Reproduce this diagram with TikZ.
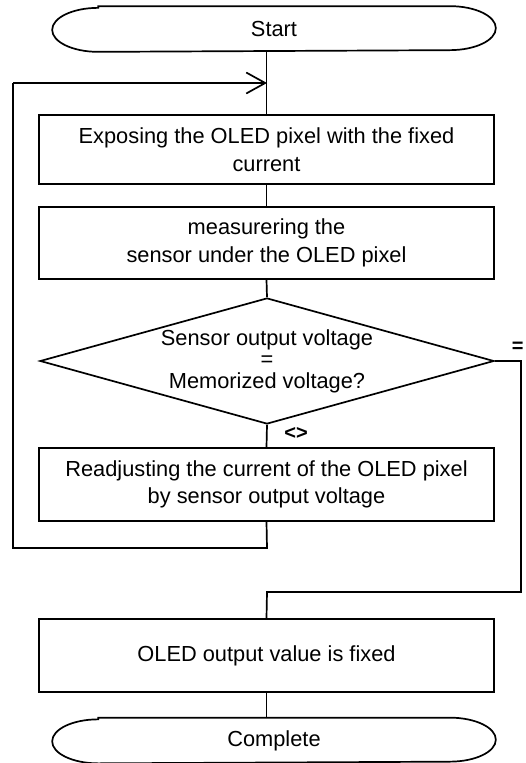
\documentclass[tikz,border=0pt]{standalone}
\usepackage{fontspec}
\setmainfont{Liberation Sans}
\usetikzlibrary{shapes.geometric,arrows.meta}
\begin{document}
\begin{tikzpicture}[x=1pt,y=-1pt,
  line width=1.7pt,
  txt/.style={font=\fontsize{21.8}{27.5}\selectfont, align=center},
  procbox/.style={draw, rectangle, txt, minimum width=455pt, inner sep=0pt},
  termbox/.style={rectangle, txt, minimum width=442pt, minimum height=44pt, inner sep=0pt},
  decbox/.style={draw, diamond, aspect=3.6, minimum width=454pt, minimum height=126pt, inner sep=0pt,
     font=\fontsize{21.8}{21.5}\selectfont, align=center},
  lbl/.style={font=\fontsize{20}{20}\selectfont\bfseries, inner sep=0pt},
  conn/.style={line width=1.7pt}
]
\useasboundingbox (0,0) rectangle (525,763);

% terminals
\node[termbox] (start) at (274,29) {Start};
\draw ([xshift=46pt]start.north west) -- ([xshift=-46pt]start.north east)
  arc[start angle=90, end angle=-90, x radius=46pt, y radius=22pt]
  -- ([xshift=46pt]start.south west)
  arc[start angle=270, end angle=90, x radius=46pt, y radius=22pt] -- cycle;

\node[procbox, minimum height=69pt] (b1) at (266.5,149.5) {Exposing the OLED pixel with the fixed\\current};
\node[procbox, minimum height=72pt] (b2) at (266.5,243) {measurering the\\sensor under the OLED pixel};
\node[decbox] (dec) at (267,361) {Sensor output voltage\\=\\Memorized voltage?};
\node[procbox, minimum height=73pt] (b3) at (266.5,484.5) {Readjusting the current of the OLED pixel\\by sensor output voltage};
\node[procbox, minimum height=73pt] (b4) at (266.5,655.5) {OLED output value is fixed};

\node[termbox] (comp) at (274,740.5) {Complete};
\draw ([xshift=46pt]comp.north west) -- ([xshift=-46pt]comp.north east)
  arc[start angle=90, end angle=-90, x radius=46pt, y radius=22pt]
  -- ([xshift=46pt]comp.south west)
  arc[start angle=270, end angle=90, x radius=46pt, y radius=22pt] -- cycle;

% labels
\node[lbl] (neq) at (296,433) {<>};
\node[lbl, anchor=west] (eq) at (511,347) {=};

% connectors
\coordinate (loopin) at (267,83);
\coordinate (loopbot) at (267,548);
\coordinate (loopbl) at (13,548);
\coordinate (looptl) at (13,83);
\coordinate (rtop) at (521,361);
\coordinate (rbot) at (521,592);
\coordinate (mbot) at (267,592);

\draw[conn] (start.south -| b1.north) -- (b1.north);
\draw[conn] (b1.south) -- (b2.north);
\draw[conn] (b2.south) -- (dec.north);
\draw[conn] (dec.south) -- (b3.north);
\draw[conn] (b3.south) -- (loopbot) -- (loopbl) -- (looptl);
\draw[conn, -{Straight Barb[length=19pt,width=21pt,line width=1.7pt]}] (looptl) -- (loopin);
\draw[conn] (dec.east) -- (rtop) -- (rbot) -- (mbot) -- (b4.north);
\draw[conn] (b4.south) -- (comp.north -| b4.south);
\end{tikzpicture}
\end{document}
